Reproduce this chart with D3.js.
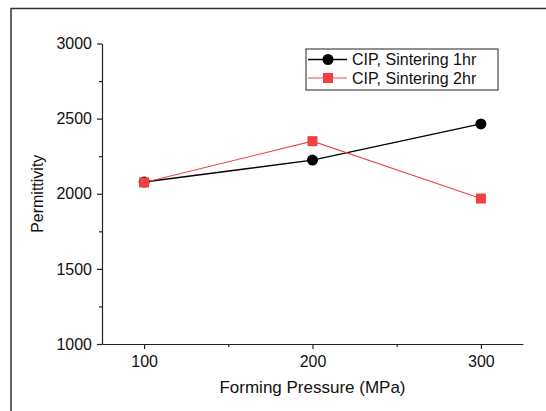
<!DOCTYPE html>
<html>
<head>
<meta charset="utf-8">
<script src="https://cdn.jsdelivr.net/npm/d3@7"></script>
<style>
  body { margin: 0; background: #fff; }
  svg { display: block; font-family: Arial, "Liberation Sans", sans-serif; }
</style>
</head>
<body>
<div id="chart"></div>
<script>
// data
const pressures = [100, 200, 300];
const sinter1hr = [2078, 2224, 2465];
const sinter2hr = [2075, 2350, 1968];
const seriesNames = ["CIP, Sintering 1hr", "CIP, Sintering 2hr"];
const xTicks = [100, 200, 300];
const yTicks = [1000, 1500, 2000, 2500, 3000];

const width = 546, height = 411;
const margin = { top: 43.5, right: 23, bottom: 67, left: 102 };
const font = "Arial, 'Liberation Sans', sans-serif";

const svg = d3.select("#chart").append("svg")
  .attr("width", width)
  .attr("height", height);

// frame lines (top + left, as in the source image)
svg.append("path")
  .attr("d", "M11,411 L11,8.5 L546,8.5")
  .attr("fill", "none")
  .attr("stroke", "#333")
  .attr("stroke-width", 1.5);

const x = d3.scaleLinear().domain([75, 325]).range([margin.left, width - margin.right]);
const y = d3.scaleLinear().domain([1000, 3000]).range([height - margin.bottom, margin.top]);

// x axis
svg.append("g")
  .attr("class", "axis")
  .attr("transform", `translate(0,${y(1000)})`)
  .call(d3.axisBottom(x).tickValues(xTicks).tickFormat(d3.format("d"))
    .tickSize(5).tickPadding(6.5).tickSizeOuter(0));
svg.append("g")
  .attr("class", "axis")
  .attr("transform", `translate(0,${y(1000)})`)
  .call(d3.axisBottom(x).tickValues([150, 250]).tickSize(3).tickFormat("").tickSizeOuter(0))
  .select(".domain").remove();

// y axis
svg.append("g")
  .attr("class", "axis")
  .attr("transform", `translate(${x(75)},0)`)
  .call(d3.axisLeft(y).tickValues(yTicks).tickFormat(d3.format("d"))
    .tickSize(5).tickPadding(5).tickSizeOuter(0));
svg.append("g")
  .attr("class", "axis")
  .attr("transform", `translate(${x(75)},0)`)
  .call(d3.axisLeft(y).tickValues([1250, 1750, 2250, 2750]).tickSize(3).tickFormat("").tickSizeOuter(0))
  .select(".domain").remove();

svg.selectAll("g.axis")
  .attr("font-size", null)
  .attr("font-family", null);
svg.selectAll(".tick text")
  .style("font-size", "16px")
  .style("font-family", font)
  .attr("fill", "#111");
svg.selectAll(".domain, .tick line").attr("stroke", "#222").attr("stroke-width", 1.2);

// axis titles
svg.append("text")
  .attr("x", x(200))
  .attr("y", 393)
  .attr("text-anchor", "middle")
  .style("font-size", "17px")
  .style("font-family", font)
  .attr("fill", "#111")
  .text("Forming Pressure (MPa)");

svg.append("text")
  .attr("transform", `translate(43,${y(2000)}) rotate(-90)`)
  .attr("text-anchor", "middle")
  .style("font-size", "16px")
  .style("font-family", font)
  .attr("fill", "#111")
  .text("Permittivity");

const line = d3.line().x((d, i) => x(pressures[i])).y(d => y(d));

// series 1: black circles
svg.append("path")
  .datum(sinter1hr)
  .attr("d", line)
  .attr("fill", "none")
  .attr("stroke", "#000")
  .attr("stroke-width", 1.4);

// series 2: red squares
svg.append("path")
  .datum(sinter2hr)
  .attr("d", line)
  .attr("fill", "none")
  .attr("stroke", "#f04545")
  .attr("stroke-width", 1.1);

svg.selectAll("circle.s1")
  .data(sinter1hr)
  .enter().append("circle")
  .attr("class", "s1")
  .attr("cx", (d, i) => x(pressures[i]))
  .attr("cy", d => y(d))
  .attr("r", 5.5)
  .attr("fill", "#000");

const sq = 10;
svg.selectAll("rect.s2")
  .data(sinter2hr)
  .enter().append("rect")
  .attr("class", "s2")
  .attr("x", (d, i) => x(pressures[i]) - sq / 2)
  .attr("y", d => y(d) - sq / 2)
  .attr("width", sq)
  .attr("height", sq)
  .attr("fill", "#f04040");

// legend
const legend = svg.append("g").attr("transform", "translate(306,49)");
legend.append("rect")
  .attr("width", 192)
  .attr("height", 41)
  .attr("fill", "#fff")
  .attr("stroke", "#222")
  .attr("stroke-width", 1);

const rows = [
  { name: seriesNames[0], color: "#000", shape: "circle", w: 1.4 },
  { name: seriesNames[1], color: "#f04545", shape: "square", w: 1.1 }
];
rows.forEach((r, i) => {
  const g = legend.append("g").attr("transform", `translate(0,${10.5 + i * 18.5})`);
  g.append("line")
    .attr("x1", 2).attr("x2", 41)
    .attr("stroke", r.color).attr("stroke-width", r.w);
  if (r.shape === "circle") {
    g.append("circle").attr("cx", 22).attr("r", 5.5).attr("fill", r.color);
  } else {
    g.append("rect").attr("x", 17).attr("y", -5).attr("width", 10).attr("height", 10).attr("fill", "#f04040");
  }
  g.append("text")
    .attr("x", 46)
    .attr("dy", "0.36em")
    .style("font-size", "16px")
    .style("font-family", font)
    .attr("fill", "#111")
    .text(r.name);
});
</script>
</body>
</html>
